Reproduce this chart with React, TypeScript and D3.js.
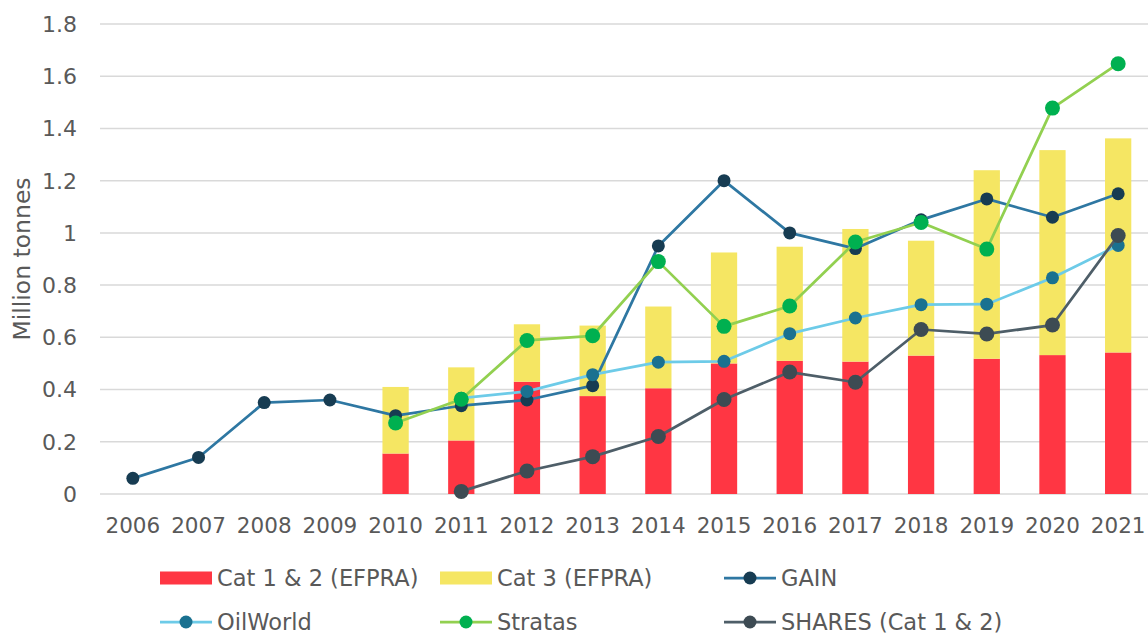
import { useEffect, useRef } from "react";
import * as d3 from "d3";

const years = [
  "2006", "2007", "2008", "2009", "2010", "2011", "2012", "2013",
  "2014", "2015", "2016", "2017", "2018", "2019", "2020", "2021",
];

// stacked bars (EFPRA)
const cat12 = [null, null, null, null, 0.155, 0.205, 0.43, 0.375, 0.405, 0.5, 0.51, 0.507, 0.53, 0.518, 0.532, 0.542];
const cat3 = [null, null, null, null, 0.255, 0.28, 0.22, 0.27, 0.313, 0.425, 0.437, 0.508, 0.44, 0.722, 0.785, 0.82];

// line series
const gain = [0.06, 0.14, 0.35, 0.36, 0.3, 0.338, 0.36, 0.415, 0.95, 1.2, 1.0, 0.94, 1.05, 1.13, 1.06, 1.15];
const oilWorld = [null, null, null, null, null, 0.367, 0.393, 0.457, 0.505, 0.508, 0.614, 0.674, 0.725, 0.727, 0.828, 0.952];
const stratas = [null, null, null, null, 0.272, 0.363, 0.588, 0.606, 0.89, 0.642, 0.72, 0.965, 1.04, 0.938, 1.478, 1.648];
const shares = [null, null, null, null, null, 0.01, 0.088, 0.143, 0.22, 0.362, 0.467, 0.428, 0.63, 0.613, 0.647, 0.99];

const yTicks = [0, 0.2, 0.4, 0.6, 0.8, 1, 1.2, 1.4, 1.6, 1.8];

const FONT = "'DejaVu Sans', sans-serif";
const TEXT = "#595959";

const lineSeries = [
  { name: "GAIN", values: gain, line: "#2E77A2", dot: "#173C52", r: 6.5 },
  { name: "OilWorld", values: oilWorld, line: "#6DCBE8", dot: "#1A7190", r: 6.5 },
  { name: "Stratas", values: stratas, line: "#92D050", dot: "#00B050", r: 7.5 },
  { name: "SHARES (Cat 1 & 2)", values: shares, line: "#4E5E68", dot: "#3D4B53", r: 7.5 },
];

export default function App() {
  const svgRef = useRef<SVGSVGElement>(null);

  useEffect(() => {
    if (!svgRef.current) return;
    const svg = d3.select(svgRef.current);
    svg.selectAll("*").remove();

    const x = d3.scaleBand().domain(years).range([100, 1151]).paddingInner(0.6).paddingOuter(0.3);
    const y = d3.scaleLinear().domain([0, 1.8]).range([494, 24]);
    const cx = (yr: string) => (x(yr) as number) + x.bandwidth() / 2;

    // gridlines
    svg
      .append("g")
      .selectAll("line")
      .data(yTicks)
      .join("line")
      .attr("x1", 100)
      .attr("x2", 1148)
      .attr("y1", (d) => y(d))
      .attr("y2", (d) => y(d))
      .attr("stroke", "#D9D9D9")
      .attr("stroke-width", 1.5);

    // y tick labels
    svg
      .append("g")
      .selectAll("text")
      .data(yTicks)
      .join("text")
      .attr("x", 77)
      .attr("y", (d) => y(d))
      .attr("dy", "0.36em")
      .attr("text-anchor", "end")
      .attr("font-family", FONT)
      .attr("font-size", 22)
      .attr("fill", TEXT)
      .text((d) => String(d));

    // x tick labels
    svg
      .append("g")
      .selectAll("text")
      .data(years)
      .join("text")
      .attr("x", (d) => cx(d))
      .attr("y", 525)
      .attr("dy", "0.36em")
      .attr("text-anchor", "middle")
      .attr("font-family", FONT)
      .attr("font-size", 21.5)
      .attr("fill", TEXT)
      .text((d) => d);

    // y title
    svg
      .append("text")
      .attr("transform", `translate(22,${(y(0) + y(1.8)) / 2}) rotate(-90)`)
      .attr("dy", "0.36em")
      .attr("text-anchor", "middle")
      .attr("font-family", FONT)
      .attr("font-size", 23.5)
      .attr("fill", TEXT)
      .text("Million tonnes");

    // stacked bars
    const bars = svg.append("g");
    years.forEach((yr, i) => {
      const a = cat12[i];
      const b = cat3[i];
      if (a == null || b == null) return;
      bars
        .append("rect")
        .attr("x", x(yr) as number)
        .attr("width", x.bandwidth())
        .attr("y", y(a))
        .attr("height", y(0) - y(a))
        .attr("fill", "#FF3643");
      bars
        .append("rect")
        .attr("x", x(yr) as number)
        .attr("width", x.bandwidth())
        .attr("y", y(a + b))
        .attr("height", y(a) - y(a + b))
        .attr("fill", "#F5E663");
    });

    // lines + markers
    lineSeries.forEach((s) => {
      const pts = years.map((yr, i) => ({ yr, v: s.values[i] }));
      const line = d3
        .line<{ yr: string; v: number | null }>()
        .defined((d) => d.v != null)
        .x((d) => cx(d.yr))
        .y((d) => y(d.v as number));
      svg
        .append("path")
        .datum(pts)
        .attr("fill", "none")
        .attr("stroke", s.line)
        .attr("stroke-width", 2.75)
        .attr("stroke-linejoin", "round")
        .attr("d", line);
      svg
        .append("g")
        .selectAll("circle")
        .data(pts.filter((d) => d.v != null))
        .join("circle")
        .attr("cx", (d) => cx(d.yr))
        .attr("cy", (d) => y(d.v as number))
        .attr("r", s.r)
        .attr("fill", s.dot);
    });

    // legend
    const legendItems = [
      { label: "Cat 1 & 2 (EFPRA)", kind: "rect", color: "#FF3643", col: 0, row: 0 },
      { label: "Cat 3 (EFPRA)", kind: "rect", color: "#F5E663", col: 1, row: 0 },
      { label: "GAIN", kind: "line", s: lineSeries[0], col: 2, row: 0 },
      { label: "OilWorld", kind: "line", s: lineSeries[1], col: 0, row: 1 },
      { label: "Stratas", kind: "line", s: lineSeries[2], col: 1, row: 1 },
      { label: "SHARES (Cat 1 & 2)", kind: "line", s: lineSeries[3], col: 2, row: 1 },
    ];
    const colX = [160, 440, 724];
    const rowY = [578, 622];
    const legend = svg.append("g");
    legendItems.forEach((it) => {
      const lx = colX[it.col];
      const ly = rowY[it.row];
      if (it.kind === "rect") {
        legend
          .append("rect")
          .attr("x", lx)
          .attr("y", ly - 6.5)
          .attr("width", 52)
          .attr("height", 13)
          .attr("fill", it.color as string);
      } else {
        const s = it.s!;
        legend
          .append("line")
          .attr("x1", lx)
          .attr("x2", lx + 52)
          .attr("y1", ly)
          .attr("y2", ly)
          .attr("stroke", s.line)
          .attr("stroke-width", 2.75);
        legend
          .append("circle")
          .attr("cx", lx + 26)
          .attr("cy", ly)
          .attr("r", 6.5)
          .attr("fill", s.dot);
      }
      legend
        .append("text")
        .attr("x", lx + 57)
        .attr("y", ly)
        .attr("dy", "0.36em")
        .attr("font-family", FONT)
        .attr("font-size", 22.5)
        .attr("fill", TEXT)
        .text(it.label);
    });
  }, []);

  return (
    <div style={{ position: "absolute", left: 0, top: 0, width: 1148, height: 635, background: "#fff" }}>
      <svg ref={svgRef} width={1148} height={635} style={{ display: "block" }}></svg>
    </div>
  );
}
